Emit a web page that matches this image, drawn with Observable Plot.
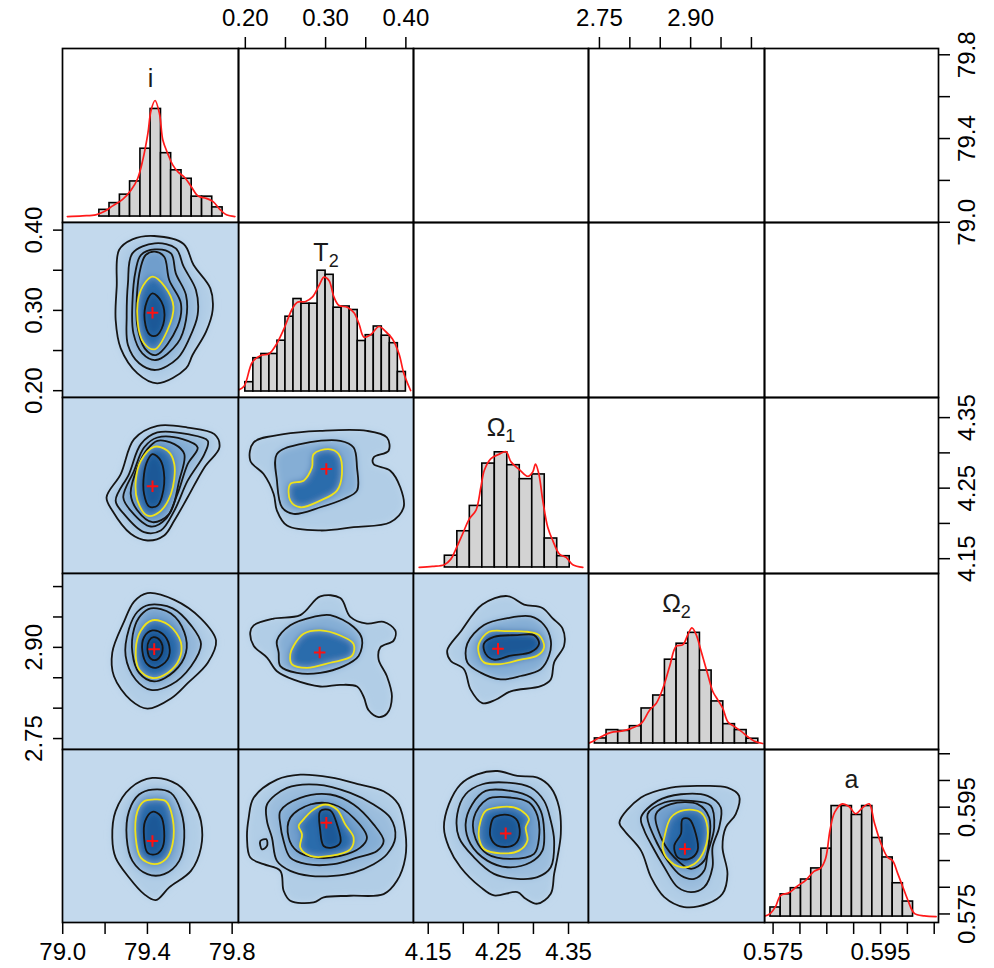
<!DOCTYPE html>
<html><head><meta charset="utf-8">
<script src="https://cdn.jsdelivr.net/npm/d3@7"></script>
<script src="https://cdn.jsdelivr.net/npm/@observablehq/plot@0.6"></script>
<style>
body{margin:0;background:#fff;}
#chart{position:relative;width:994px;height:968px;overflow:hidden;background:#fff;}
#chart svg{position:absolute;}
</style></head><body><div id="chart"></div>
<script>
// ---------------- variables & axes ----------------
const varLabels = ["i", "T₂", "Ω₁", "Ω₂", "a"];
const iDomain = [78.999, 79.83];
const t2Domain = [0.1915, 0.4095];
const o1Domain = [4.129, 4.3785];
const o2Domain = [2.732, 3.0215];
const aDomain = [0.5734, 0.6058];
const histDomain = [-6, 169];

const iTicks = [79.0, 79.2, 79.4, 79.6, 79.8];
const iTickLabels = ["79.0", "", "79.4", "", "79.8"];
const t2Ticks = [0.20, 0.25, 0.30, 0.35, 0.40];
const t2TickLabels = ["0.20", "", "0.30", "", "0.40"];
const o1Ticks = [4.15, 4.20, 4.25, 4.30, 4.35];
const o1TickLabels = ["4.15", "", "4.25", "", "4.35"];
const o2Ticks = [2.75, 2.80, 2.85, 2.90, 2.95, 3.00];
const o2TickLabels = ["2.75", "", "", "2.90", "", ""];
const aTicks = [0.575, 0.580, 0.585, 0.590, 0.595, 0.600, 0.605];
const aTickLabels = ["0.575", "", "", "", "0.595", "", ""];

// ---------------- histograms (relative frequency) ----------------
const iBreaks = [79.173, 79.221, 79.270, 79.318, 79.367, 79.415, 79.464, 79.512, 79.561, 79.609, 79.658, 79.706, 79.755];
const iCounts = [6.7, 13.5, 22, 35.3, 68.2, 108.2, 63.7, 46.5, 38, 20, 20, 9.2];
const iDensX = [79.022, 79.093, 79.156, 79.196, 79.236, 79.283, 79.323, 79.354, 79.378, 79.402, 79.417, 79.436, 79.457, 79.473, 79.496, 79.520, 79.544, 79.576, 79.607, 79.639, 79.678, 79.710, 79.742, 79.773, 79.813];
const iDensY = [0, 0.7, 1.7, 5, 10.7, 17.3, 26.7, 38.3, 56.7, 83.3, 106.7, 116.7, 103.3, 76.7, 63.3, 51.7, 45, 39.3, 30, 20.7, 18.3, 15, 7.3, 1.7, 0];

const t2Breaks = [0.20, 0.21, 0.22, 0.23, 0.24, 0.25, 0.26, 0.27, 0.28, 0.29, 0.30, 0.31, 0.32, 0.33, 0.34, 0.35, 0.36, 0.37, 0.38, 0.39, 0.40];
const t2Counts = [9.3, 33.3, 37.5, 37.5, 50.8, 74.8, 92.5, 87.8, 87.8, 120.8, 116.7, 83.8, 85, 81.5, 50.5, 56.3, 65, 55.8, 48.3, 19.5];
const t2DensX = [0.1900, 0.1984, 0.2087, 0.2191, 0.2295, 0.2378, 0.2481, 0.2585, 0.2648, 0.2751, 0.2834, 0.2918, 0.2980, 0.3042, 0.3105, 0.3167, 0.3270, 0.3354, 0.3416, 0.3478, 0.3561, 0.3665, 0.3748, 0.3831, 0.3914, 0.3976, 0.4059];
const t2DensY = [1, 5.3, 29.3, 36, 37.7, 46, 62.7, 82.7, 89.3, 90, 94.3, 106, 114.3, 111, 94.3, 86, 84.3, 78.7, 67.7, 54.3, 56.7, 65, 60, 52.7, 37.7, 17.7, 1];

const o1Breaks = [4.1737, 4.1915, 4.2093, 4.2271, 4.2449, 4.2627, 4.2805, 4.2983, 4.3161, 4.3339, 4.3517];
const o1Counts = [11.7, 36, 61.2, 103.3, 114.5, 101.7, 87.8, 92.5, 28.8, 11.2];
const o1DensX = [4.1371, 4.1561, 4.1729, 4.1823, 4.1894, 4.1990, 4.2086, 4.2180, 4.2251, 4.2300, 4.2394, 4.2514, 4.2609, 4.2680, 4.2800, 4.2919, 4.2990, 4.3029, 4.3076, 4.3133, 4.3204, 4.3276, 4.3371, 4.3466, 4.3561, 4.3704];
const o1DensY = [0, 1, 2.7, 8.3, 18.3, 33.3, 48.3, 56.7, 80, 96.7, 108.3, 112.7, 115, 105, 97.3, 90.7, 95, 102.7, 93.3, 66.7, 40, 26.7, 13.3, 10, 2.7, 0];

const o2Breaks = [2.7425, 2.7617, 2.7809, 2.8001, 2.8193, 2.8385, 2.8577, 2.8769, 2.8961, 2.9153, 2.9345, 2.9537, 2.9729, 2.9921, 3.0113];
const o2Counts = [5, 13.3, 12.5, 17.2, 34.8, 47.7, 83.3, 99.2, 110, 72.5, 41.8, 19.2, 13.3, 4.7];
const o2DensX = [2.7315, 2.7425, 2.7561, 2.7697, 2.7861, 2.8025, 2.8189, 2.8327, 2.8435, 2.8545, 2.8655, 2.8763, 2.8873, 2.8955, 2.9021, 2.9091, 2.9173, 2.9283, 2.9365, 2.9447, 2.9529, 2.9611, 2.9721, 2.9829, 2.9939, 3.0049, 3.0185];
const o2DensY = [0, 3.3, 7.7, 11, 12.3, 15, 20, 33.3, 40, 55, 76.7, 96.7, 98.3, 108.3, 115, 108.3, 91.7, 68.3, 51.7, 43.3, 35, 21.7, 16.7, 12.3, 6.7, 2.3, 0];

const aBreaks = [0.57451, 0.57641, 0.57830, 0.58020, 0.58210, 0.58399, 0.58589, 0.58779, 0.58968, 0.59158, 0.59348, 0.59537, 0.59727, 0.59917, 0.60106];
const aCounts = [9.2, 22.5, 28.7, 37.5, 48.7, 68.7, 111.8, 111.8, 102.8, 111.8, 79.5, 59.8, 33.7, 15.2];
const aDensX = [0.57326, 0.57451, 0.57545, 0.57638, 0.57793, 0.57949, 0.58106, 0.58261, 0.58386, 0.58479, 0.58560, 0.58648, 0.58790, 0.58915, 0.59040, 0.59164, 0.59289, 0.59382, 0.59508, 0.59631, 0.59724, 0.59818, 0.59911, 0.60005, 0.60130, 0.60317, 0.60536];
const aDensY = [0, 3.3, 10, 21.3, 24, 30.7, 36.7, 45.7, 49, 59, 87.3, 105.7, 114, 111.3, 104, 110, 114, 95.7, 74, 60, 56.7, 44, 30.7, 17.3, 3.3, 0.7, 0];

// ---------------- 2D posterior contours: [nesting level, ring points] ----------------
const cT2_i = [
 [1, [[79.432,0.3927],[79.571,0.3827],[79.618,0.3565],[79.697,0.3275],[79.708,0.3005],[79.677,0.2735],[79.613,0.2444],[79.582,0.2278],[79.447,0.2092],[79.353,0.2216],[79.274,0.2527],[79.250,0.2880],[79.255,0.3296],[79.266,0.3752],[79.329,0.3885]]],
 [2, [[79.435,0.3835],[79.534,0.3773],[79.571,0.3544],[79.629,0.3254],[79.637,0.2943],[79.598,0.2652],[79.542,0.2403],[79.440,0.2258],[79.361,0.2341],[79.308,0.2569],[79.302,0.2922],[79.308,0.3337],[79.329,0.3710]]],
 [3, [[79.435,0.3760],[79.511,0.3710],[79.534,0.3461],[79.582,0.3192],[79.582,0.2880],[79.542,0.2590],[79.440,0.2382],[79.376,0.2465],[79.334,0.2714],[79.329,0.3088],[79.345,0.3503],[79.369,0.3690]]],
 [4, [[79.435,0.3731],[79.479,0.3669],[79.503,0.3378],[79.558,0.3088],[79.542,0.2797],[79.440,0.2444],[79.387,0.2527],[79.353,0.2797],[79.350,0.3171],[79.369,0.3544],[79.392,0.3690]]],
 [5, [[79.424,0.3420],[79.482,0.3296],[79.523,0.3046],[79.495,0.2756],[79.435,0.2515],[79.384,0.2590],[79.353,0.2880],[79.369,0.3254]]],
 [6, [[79.424,0.3212],[79.466,0.3109],[79.479,0.2880],[79.447,0.2694],[79.413,0.2694],[79.387,0.2880],[79.397,0.3109]]]
];
const hpdT2_i = 5;
const modeT2_i = [79.424, 0.2971];

const cO1_i = [
 [1, [[79.447,4.3383],[79.590,4.3359],[79.716,4.3265],[79.740,4.3077],[79.669,4.2794],[79.590,4.2370],[79.527,4.2041],[79.479,4.1829],[79.400,4.1758],[79.321,4.1853],[79.234,4.2182],[79.207,4.2370],[79.274,4.2700],[79.337,4.3195]]],
 [2, [[79.447,4.3289],[79.590,4.3265],[79.685,4.3171],[79.669,4.2983],[79.590,4.2606],[79.527,4.2182],[79.463,4.1900],[79.384,4.1876],[79.289,4.2135],[79.250,4.2323],[79.313,4.2700],[79.369,4.3124]]],
 [3, [[79.447,4.3218],[79.566,4.3195],[79.637,4.3077],[79.590,4.2841],[79.542,4.2418],[79.487,4.2064],[79.416,4.1956],[79.321,4.2182],[79.286,4.2370],[79.337,4.2747],[79.384,4.3077]]],
 [4, [[79.447,4.3171],[79.527,4.3124],[79.574,4.2983],[79.550,4.2606],[79.503,4.2135],[79.424,4.2017],[79.353,4.2182],[79.321,4.2418],[79.353,4.2794],[79.400,4.3053]]],
 [5, [[79.432,4.3086],[79.495,4.3030],[79.527,4.2841],[79.511,4.2418],[79.455,4.2159],[79.400,4.2111],[79.353,4.2323],[79.345,4.2606],[79.369,4.2888]]],
 [6, [[79.424,4.2983],[79.463,4.2888],[79.479,4.2559],[79.447,4.2253],[79.408,4.2239],[79.384,4.2418],[79.384,4.2700],[79.400,4.2888]]]
];
const hpdO1_i = 5;
const modeO1_i = [79.424, 4.2526];

const cO1_T2 = [
 [1, [[0.2104,4.3148],[0.2477,4.3265],[0.2934,4.3312],[0.3515,4.3312],[0.3764,4.3218],[0.3785,4.3030],[0.3598,4.2936],[0.3598,4.2841],[0.3806,4.2747],[0.3930,4.2512],[0.3972,4.2229],[0.3806,4.2017],[0.3349,4.1947],[0.2934,4.1900],[0.2519,4.1970],[0.2394,4.2182],[0.2353,4.2418],[0.2228,4.2700],[0.2062,4.2888]]],
 [2, [[0.2394,4.2983],[0.2685,4.3124],[0.3183,4.3171],[0.3349,4.3077],[0.3391,4.2794],[0.3391,4.2465],[0.3225,4.2347],[0.2934,4.2229],[0.2602,4.2135],[0.2457,4.2229],[0.2394,4.2606]]],
 [3, [[0.2851,4.2983],[0.3038,4.3053],[0.3162,4.2983],[0.3204,4.2700],[0.3142,4.2465],[0.2934,4.2323],[0.2685,4.2229],[0.2560,4.2323],[0.2560,4.2559],[0.2726,4.2606],[0.2830,4.2794]]]
];
const hpdO1_T2 = 3;
const modeO1_T2 = [0.3009, 4.2771];

const cO2_i = [
 [1, [[79.400,2.9894],[79.527,2.9782],[79.653,2.9474],[79.724,2.9111],[79.685,2.8747],[79.590,2.8412],[79.511,2.8160],[79.400,2.7993],[79.321,2.8132],[79.242,2.8524],[79.234,2.8915],[79.289,2.9418],[79.337,2.9754]]],
 [2, [[79.408,2.9698],[79.519,2.9642],[79.606,2.9362],[79.653,2.9055],[79.606,2.8691],[79.511,2.8384],[79.416,2.8300],[79.345,2.8468],[79.297,2.8859],[79.313,2.9306],[79.353,2.9586]]],
 [3, [[79.416,2.9642],[79.511,2.9558],[79.574,2.9251],[79.582,2.8915],[79.527,2.8607],[79.432,2.8440],[79.361,2.8580],[79.329,2.8915],[79.337,2.9306],[79.369,2.9530]]],
 [4, [[79.424,2.9446],[79.503,2.9362],[79.558,2.9083],[79.550,2.8803],[79.495,2.8580],[79.424,2.8496],[79.361,2.8635],[79.345,2.8971],[79.369,2.9278]]],
 [5, [[79.424,2.9278],[79.471,2.9223],[79.503,2.9027],[79.495,2.8803],[79.440,2.8663],[79.400,2.8719],[79.376,2.8943],[79.384,2.9167]]],
 [6, [[79.429,2.9167],[79.460,2.9111],[79.471,2.8943],[79.447,2.8803],[79.416,2.8814],[79.400,2.8971],[79.408,2.9111]]]
];
const hpdO2_i = 4;
const modeO2_i = [79.432, 2.8971];

const cO2_T2 = [
 [1, [[0.2104,2.9362],[0.2353,2.9474],[0.2685,2.9530],[0.2934,2.9838],[0.3183,2.9810],[0.3308,2.9502],[0.3515,2.9391],[0.3723,2.9418],[0.3868,2.9278],[0.3847,2.9111],[0.3681,2.8999],[0.3660,2.8803],[0.3764,2.8524],[0.3826,2.8188],[0.3764,2.7909],[0.3660,2.7853],[0.3536,2.7965],[0.3474,2.8188],[0.3391,2.8356],[0.3183,2.8384],[0.2934,2.8356],[0.2602,2.8468],[0.2394,2.8607],[0.2270,2.8831],[0.2104,2.9027],[0.2062,2.9251]]],
 [2, [[0.2394,2.9111],[0.2560,2.9362],[0.2851,2.9502],[0.3059,2.9530],[0.3349,2.9335],[0.3453,2.9139],[0.3411,2.8859],[0.3225,2.8691],[0.2934,2.8580],[0.2643,2.8580],[0.2436,2.8691],[0.2415,2.8915]]],
 [3, [[0.2602,2.9027],[0.2726,2.9223],[0.2934,2.9278],[0.3183,2.9195],[0.3349,2.9055],[0.3328,2.8859],[0.3059,2.8747],[0.2768,2.8663],[0.2581,2.8719],[0.2560,2.8887]]]
];
const hpdO2_T2 = 3;
const modeO2_T2 = [0.2926, 2.8915];

const cO2_O1 = [
 [1, [[4.2271,2.9704],[4.2628,2.9844],[4.2866,2.9704],[4.3128,2.9648],[4.3271,2.9480],[4.3414,2.9312],[4.3438,2.9033],[4.3295,2.8753],[4.3247,2.8473],[4.3104,2.8362],[4.2676,2.8277],[4.2461,2.8138],[4.2271,2.8082],[4.2104,2.8305],[4.2009,2.8641],[4.1819,2.8781],[4.1771,2.8949],[4.1961,2.9257]]],
 [2, [[4.2057,2.9061],[4.2295,2.9368],[4.2628,2.9480],[4.2961,2.9508],[4.3152,2.9368],[4.3247,2.9117],[4.3223,2.8865],[4.3104,2.8641],[4.2819,2.8529],[4.2533,2.8473],[4.2247,2.8585],[4.2057,2.8753]]],
 [3, [[4.2223,2.9061],[4.2366,2.9257],[4.2628,2.9268],[4.2914,2.9257],[4.3080,2.9201],[4.3152,2.9005],[4.3057,2.8865],[4.2819,2.8798],[4.2533,2.8725],[4.2295,2.8753],[4.2223,2.8893]]],
 [4, [[4.2295,2.9061],[4.2438,2.9173],[4.2771,2.9201],[4.3009,2.9201],[4.3080,2.9061],[4.2961,2.8921],[4.2676,2.8865],[4.2438,2.8798],[4.2319,2.8893]]]
];
const hpdO2_O1 = 3;
const modeO2_O1 = [4.2495, 2.8977];

const cA_i = [
 [1, [[79.4237,0.60047],[79.5423,0.59923],[79.6213,0.59550],[79.6529,0.59239],[79.6529,0.58743],[79.6055,0.58307],[79.5028,0.57997],[79.4395,0.57760],[79.3842,0.57872],[79.3131,0.58183],[79.2497,0.58556],[79.2341,0.58929],[79.2497,0.59426],[79.3210,0.59861]]],
 [2, [[79.4237,0.59830],[79.5107,0.59768],[79.5581,0.59426],[79.5739,0.58929],[79.5502,0.58494],[79.4790,0.58245],[79.4000,0.58245],[79.3289,0.58494],[79.3020,0.58929],[79.3131,0.59426],[79.3606,0.59737]]],
 [3, [[79.4237,0.59643],[79.4869,0.59612],[79.5186,0.59301],[79.5186,0.58805],[79.4869,0.58525],[79.4316,0.58432],[79.3685,0.58556],[79.3447,0.58929],[79.3527,0.59426],[79.3842,0.59612]]],
 [4, [[79.4237,0.59414],[79.4632,0.59332],[79.4790,0.59053],[79.4711,0.58743],[79.4395,0.58618],[79.4000,0.58649],[79.3842,0.58929],[79.3890,0.59239]]]
];
const hpdA_i = 3;
const modeA_i = [79.4237, 0.58866];

const cA_T2 = [
 [1, [[0.2104,0.59675],[0.2394,0.60016],[0.2685,0.60109],[0.3059,0.60059],[0.3432,0.59923],[0.3723,0.59798],[0.3909,0.59550],[0.3993,0.59053],[0.3993,0.58556],[0.3889,0.58121],[0.3723,0.57872],[0.3308,0.57841],[0.2976,0.57810],[0.2851,0.57717],[0.2560,0.57748],[0.2477,0.57934],[0.2436,0.58307],[0.2228,0.58432],[0.2062,0.58556],[0.2021,0.58929],[0.2042,0.59301]]],
 [2, [[0.2270,0.59550],[0.2519,0.59861],[0.2892,0.59923],[0.3308,0.59768],[0.3598,0.59550],[0.3806,0.59301],[0.3868,0.58929],[0.3764,0.58618],[0.3598,0.58432],[0.3349,0.58276],[0.3100,0.58214],[0.2809,0.58214],[0.2560,0.58307],[0.2394,0.58494],[0.2332,0.58929],[0.2270,0.59239]]],
 [2, [[0.2187,0.58866],[0.2262,0.58898],[0.2270,0.58773],[0.2208,0.58711]]],
 [3, [[0.2436,0.59426],[0.2685,0.59675],[0.3059,0.59737],[0.3349,0.59550],[0.3598,0.59177],[0.3723,0.58866],[0.3640,0.58680],[0.3391,0.58556],[0.3100,0.58432],[0.2768,0.58432],[0.2560,0.58556],[0.2477,0.58866],[0.2436,0.59177]]],
 [4, [[0.2560,0.59301],[0.2809,0.59550],[0.3100,0.59550],[0.3349,0.59301],[0.3515,0.58929],[0.3432,0.58743],[0.3183,0.58587],[0.2892,0.58556],[0.2643,0.58680],[0.2540,0.58929]]],
 [5, [[0.2706,0.59239],[0.2851,0.59457],[0.2996,0.59550],[0.3142,0.59457],[0.3245,0.59177],[0.3349,0.58929],[0.3308,0.58711],[0.3059,0.58587],[0.2809,0.58587],[0.2685,0.58743],[0.2706,0.58991],[0.2664,0.59146]]],
 [6, [[0.2934,0.59426],[0.3059,0.59438],[0.3142,0.59177],[0.3183,0.58835],[0.3079,0.58743],[0.2976,0.58773],[0.2934,0.59053]]]
];
const hpdA_T2 = 5;
const modeA_T2 = [0.3009, 0.59208];

const cA_O1 = [
 [1, [[4.2199,0.60115],[4.2485,0.60177],[4.2771,0.60084],[4.3057,0.60053],[4.3247,0.59867],[4.3366,0.59494],[4.3390,0.58996],[4.3342,0.58561],[4.3295,0.58251],[4.3247,0.57878],[4.3057,0.57692],[4.2890,0.57785],[4.2771,0.57909],[4.2438,0.57847],[4.2247,0.58002],[4.1961,0.58375],[4.1795,0.58748],[4.1724,0.59120],[4.1795,0.59556],[4.1961,0.59929]]],
 [2, [[4.2271,0.59929],[4.2628,0.59960],[4.2961,0.59867],[4.3152,0.59618],[4.3247,0.59245],[4.3295,0.58872],[4.3247,0.58375],[4.3057,0.58189],[4.2771,0.58158],[4.2438,0.58251],[4.2152,0.58561],[4.1938,0.58934],[4.1914,0.59369],[4.2033,0.59742]]],
 [3, [[4.2319,0.59804],[4.2676,0.59804],[4.2961,0.59680],[4.3104,0.59431],[4.3152,0.59058],[4.3128,0.58686],[4.2961,0.58468],[4.2628,0.58375],[4.2342,0.58499],[4.2104,0.58810],[4.2033,0.59183],[4.2128,0.59556]]],
 [4, [[4.2342,0.59649],[4.2676,0.59680],[4.2938,0.59587],[4.3057,0.59338],[4.3080,0.58934],[4.3009,0.58624],[4.2676,0.58530],[4.2342,0.58624],[4.2176,0.58903],[4.2152,0.59307]]],
 [5, [[4.2319,0.59431],[4.2485,0.59494],[4.2723,0.59494],[4.2890,0.59369],[4.2938,0.59276],[4.2890,0.59120],[4.2914,0.58872],[4.2795,0.58686],[4.2533,0.58636],[4.2295,0.58717],[4.2223,0.58934],[4.2247,0.59245]]],
 [6, [[4.2438,0.59307],[4.2628,0.59357],[4.2771,0.59245],[4.2795,0.58934],[4.2700,0.58779],[4.2485,0.58779],[4.2390,0.58934],[4.2390,0.59152]]]
];
const hpdA_O1 = 5;
const modeA_O1 = [4.2604, 0.59009];

const cA_O2 = [
 [1, [[2.7829,0.59214],[2.8184,0.59680],[2.8676,0.59867],[2.9168,0.59898],[2.9606,0.59867],[2.9797,0.59711],[2.9742,0.59369],[2.9578,0.59120],[2.9524,0.58748],[2.9606,0.58251],[2.9524,0.57878],[2.9278,0.57692],[2.8895,0.57630],[2.8567,0.57816],[2.8348,0.58189],[2.8184,0.58686],[2.7911,0.59058]]],
 [2, [[2.8184,0.59307],[2.8457,0.59618],[2.8840,0.59742],[2.9278,0.59711],[2.9496,0.59494],[2.9469,0.59120],[2.9360,0.58748],[2.9360,0.58375],[2.9223,0.58002],[2.9005,0.57909],[2.8786,0.58002],[2.8567,0.58375],[2.8348,0.58810],[2.8239,0.59058]]],
 [3, [[2.8293,0.59369],[2.8567,0.59587],[2.9005,0.59618],[2.9332,0.59525],[2.9387,0.59120],[2.9278,0.58624],[2.9223,0.58313],[2.9059,0.58158],[2.8840,0.58220],[2.8622,0.58499],[2.8403,0.58934]]],
 [4, [[2.8430,0.59369],[2.8676,0.59556],[2.9114,0.59556],[2.9305,0.59307],[2.9305,0.58872],[2.9223,0.58499],[2.9005,0.58344],[2.8731,0.58561],[2.8512,0.58934]]],
 [5, [[2.8567,0.58934],[2.8676,0.59307],[2.8895,0.59444],[2.9168,0.59401],[2.9278,0.59120],[2.9223,0.58686],[2.9059,0.58437],[2.8840,0.58375],[2.8622,0.58530],[2.8539,0.58748]]],
 [6, [[2.8867,0.59276],[2.8977,0.59276],[2.9086,0.58996],[2.9114,0.58686],[2.8977,0.58530],[2.8786,0.58561],[2.8731,0.58779],[2.8840,0.58996]]]
];
const hpdA_O2 = 5;
const modeA_O2 = [2.8906, 0.58717];

// ---------------- layout (pixels) & styles ----------------
const colEdges = [62, 238, 413, 588, 764, 938];
const rowEdges = [48, 222, 397, 573, 749, 922];
const M = 70;
const FONT = "'Liberation Sans', Arial, Helvetica, sans-serif";
const BG = "#c3d9ed";
const YELLOW = "#efe21a";
const chart = document.getElementById("chart");
const ns = "http://www.w3.org/2000/svg";

const domains = [iDomain, t2Domain, o1Domain, o2Domain, aDomain];
const tickSets = [
  [iTicks, iTickLabels], [t2Ticks, t2TickLabels], [o1Ticks, o1TickLabels],
  [o2Ticks, o2TickLabels], [aTicks, aTickLabels]
];
const fmt = k => { const m = new Map(tickSets[k][0].map((t, j) => [t, tickSets[k][1][j]])); return d => m.get(d) ?? ""; };

const hists = [
  [iBreaks, iCounts, iDensX, iDensY],
  [t2Breaks, t2Counts, t2DensX, t2DensY],
  [o1Breaks, o1Counts, o1DensX, o1DensY],
  [o2Breaks, o2Counts, o2DensX, o2DensY],
  [aBreaks, aCounts, aDensX, aDensY]
];

const pairs = [
  {r: 1, c: 0, rings: cT2_i, hpd: hpdT2_i, mode: modeT2_i},
  {r: 2, c: 0, rings: cO1_i, hpd: hpdO1_i, mode: modeO1_i},
  {r: 2, c: 1, rings: cO1_T2, hpd: hpdO1_T2, mode: modeO1_T2},
  {r: 3, c: 0, rings: cO2_i, hpd: hpdO2_i, mode: modeO2_i},
  {r: 3, c: 1, rings: cO2_T2, hpd: hpdO2_T2, mode: modeO2_T2},
  {r: 3, c: 2, rings: cO2_O1, hpd: hpdO2_O1, mode: modeO2_O1},
  {r: 4, c: 0, rings: cA_i, hpd: hpdA_i, mode: modeA_i},
  {r: 4, c: 1, rings: cA_T2, hpd: hpdA_T2, mode: modeA_T2},
  {r: 4, c: 2, rings: cA_O1, hpd: hpdA_O1, mode: modeA_O1},
  {r: 4, c: 3, rings: cA_O2, hpd: hpdA_O2, mode: modeA_O2}
];

const lighter = d3.interpolateRgb(BG, "#2f72b3");
function fillFor(depth, hpd) {
  if (depth < hpd) return lighter(0.12 + 0.6 * (depth - 1) / Math.max(1, hpd - 1));
  if (depth === hpd) return "#2c6cac";
  return ["#1b5997", "#0f4682"][Math.min(depth - hpd - 1, 1)];
}

function axisMarks(r, c) {
  const marks = [];
  let hasX = false, hasY = false;
  const common = {strokeWidth: 1.5, fontSize: 24, label: null};
  if (r === 0 && (c === 1 || c === 3)) {
    marks.push(Plot.axisX(tickSets[c][0], {...common, anchor: "top", tickSize: 12, tickPadding: 11, tickFormat: fmt(c)}));
    hasX = true;
  }
  if (r === 4 && (c === 0 || c === 2 || c === 4)) {
    marks.push(Plot.axisX(tickSets[c][0], {...common, anchor: "bottom", tickSize: 12, tickPadding: 8, tickFormat: fmt(c)}));
    hasX = true;
  }
  if (c === 0 && (r === 1 || r === 3)) {
    marks.push(Plot.axisY(tickSets[r][0], {...common, anchor: "left", tickSize: 9, tickPadding: 12, tickRotate: -90, lineAnchor: "bottom", textAnchor: "middle", tickFormat: fmt(r)}));
    hasY = true;
  }
  if (c === 4 && (r === 0 || r === 2)) {
    marks.push(Plot.axisY(tickSets[r][0], {...common, anchor: "right", tickSize: 11, tickPadding: 8, tickRotate: -90, lineAnchor: "top", textAnchor: "middle", tickFormat: fmt(r)}));
    hasY = true;
  }
  return {marks, hasX, hasY};
}

function place(svg, r, c) {
  svg.style.left = (colEdges[c] - M) + "px";
  svg.style.top = (rowEdges[r] - M) + "px";
  chart.appendChild(svg);
}

function makePanel(r, c, xDom, yDom, marks, hasX, hasY, extra = {}) {
  const w = colEdges[c + 1] - colEdges[c];
  const h = rowEdges[r + 1] - rowEdges[r];
  const svg = Plot.plot({
    width: w + 2 * M, height: h + 2 * M, margin: M,
    x: {domain: xDom, ...(hasX ? {} : {axis: null})},
    y: {domain: yDom, ...(hasY ? {} : {axis: null})},
    style: {background: "transparent", overflow: "visible", fontFamily: FONT, fontSize: "24px", color: "black"},
    marks,
    ...extra
  });
  place(svg, r, c);
  return svg;
}

function subscriptTitles(svg) {
  svg.querySelectorAll("text").forEach(t => {
    const m = /^(.)([₁₂])$/.exec(t.textContent);
    if (!m) return;
    t.textContent = m[1];
    const sub = document.createElementNS(ns, "tspan");
    sub.setAttribute("font-size", "18");
    sub.setAttribute("dy", "6");
    sub.textContent = m[2] === "₁" ? "1" : "2";
    t.appendChild(sub);
  });
}

// ---------------- draw ----------------
for (let r = 0; r < 5; r++) {
  for (let c = 0; c < 5; c++) {
    const ax = axisMarks(r, c);
    if (r === c) {
      const [br, ct, dx, dy] = hists[r];
      const bins = ct.map((v, k) => ({x1: br[k], x2: br[k + 1], h: v}));
      const dens = dx.map((x, k) => ({x, h: dy[k]}));
      const svg = makePanel(r, c, domains[c], histDomain, [
        Plot.rect(bins, {x1: "x1", x2: "x2", y1: () => 0, y2: "h", fill: "#d3d3d3", stroke: "black", strokeWidth: 1.6, inset: 0}),
        Plot.line(dens, {x: "x", y: "h", stroke: "#ff1a1a", strokeWidth: 1.7, curve: "catmull-rom", clip: true}),
        Plot.text([varLabels[r]], {text: d => d, frameAnchor: "top", dy: 38, lineAnchor: "bottom", fontSize: 25, fill: "#1a1a1a"}),
        Plot.frame({stroke: "black", strokeWidth: 1.7}),
        ...ax.marks
      ], ax.hasX, false);
      subscriptTitles(svg);
    } else if (r < c) {
      makePanel(r, c, domains[c], domains[r], [
        Plot.frame({stroke: "black", strokeWidth: 1.7}),
        ...ax.marks
      ], ax.hasX, ax.hasY);
    }
  }
}

pairs.forEach(({r, c, rings, hpd, mode}) => {
  const ax = axisMarks(r, c);
  const pts = rings.flatMap(([depth, ring], k) => ring.map(([x, y]) => ({ring: k, depth, x, y})));
  const svg = makePanel(r, c, domains[c], domains[r], [
    Plot.frame({fill: BG, stroke: null}),
    Plot.line(pts, {x: "x", y: "y", z: "ring", fill: d => fillFor(d.depth, hpd), stroke: "none", curve: "catmull-rom-closed"}),
    Plot.line(pts, {x: "x", y: "y", z: "ring", stroke: d => d.depth === hpd ? YELLOW : "#151515", strokeWidth: 1.8, curve: "catmull-rom-closed", clip: true}),
    Plot.dot([mode], {x: d => d[0], y: d => d[1], symbol: "plus", r: 3.8, stroke: "#ff1010", strokeWidth: 2}),
    Plot.frame({stroke: "black", strokeWidth: 1.7}),
    ...ax.marks
  ], ax.hasX, ax.hasY, {color: {type: "identity"}});

  // soften the density shading: blur the fill layer, then clip it to the panel
  const w = colEdges[c + 1] - colEdges[c];
  const h = rowEdges[r + 1] - rowEdges[r];
  const id = `soft-${r}-${c}`;
  const defs = document.createElementNS(ns, "defs");
  const filter = document.createElementNS(ns, "filter");
  filter.setAttribute("id", id);
  filter.setAttribute("filterUnits", "userSpaceOnUse");
  filter.setAttribute("x", "-50"); filter.setAttribute("y", "-50");
  filter.setAttribute("width", "500"); filter.setAttribute("height", "500");
  const blur = document.createElementNS(ns, "feGaussianBlur");
  blur.setAttribute("stdDeviation", "3.5");
  filter.appendChild(blur);
  const clip = document.createElementNS(ns, "clipPath");
  clip.setAttribute("id", id + "-clip");
  const cr = document.createElementNS(ns, "rect");
  cr.setAttribute("x", M); cr.setAttribute("y", M); cr.setAttribute("width", w); cr.setAttribute("height", h);
  clip.appendChild(cr);
  defs.appendChild(filter); defs.appendChild(clip);
  svg.insertBefore(defs, svg.firstChild);
  const lineGroups = svg.querySelectorAll('g[aria-label="line"]');
  if (lineGroups.length) {
    const g = lineGroups[0];
    const wrap = document.createElementNS(ns, "g");
    wrap.setAttribute("clip-path", `url(#${id}-clip)`);
    g.parentNode.insertBefore(wrap, g);
    wrap.appendChild(g);
    g.setAttribute("filter", `url(#${id})`);
  }
});

// right-hand axis for parameter a (beside the a histogram)
makePanel(4, 4, aDomain, aDomain, [
  Plot.axisY(aTicks, {anchor: "right", tickSize: 11, tickPadding: 8, tickRotate: -90, lineAnchor: "top", textAnchor: "middle", tickFormat: fmt(4), strokeWidth: 1.5, fontSize: 24, label: null})
], false, true);
</script></body></html>
